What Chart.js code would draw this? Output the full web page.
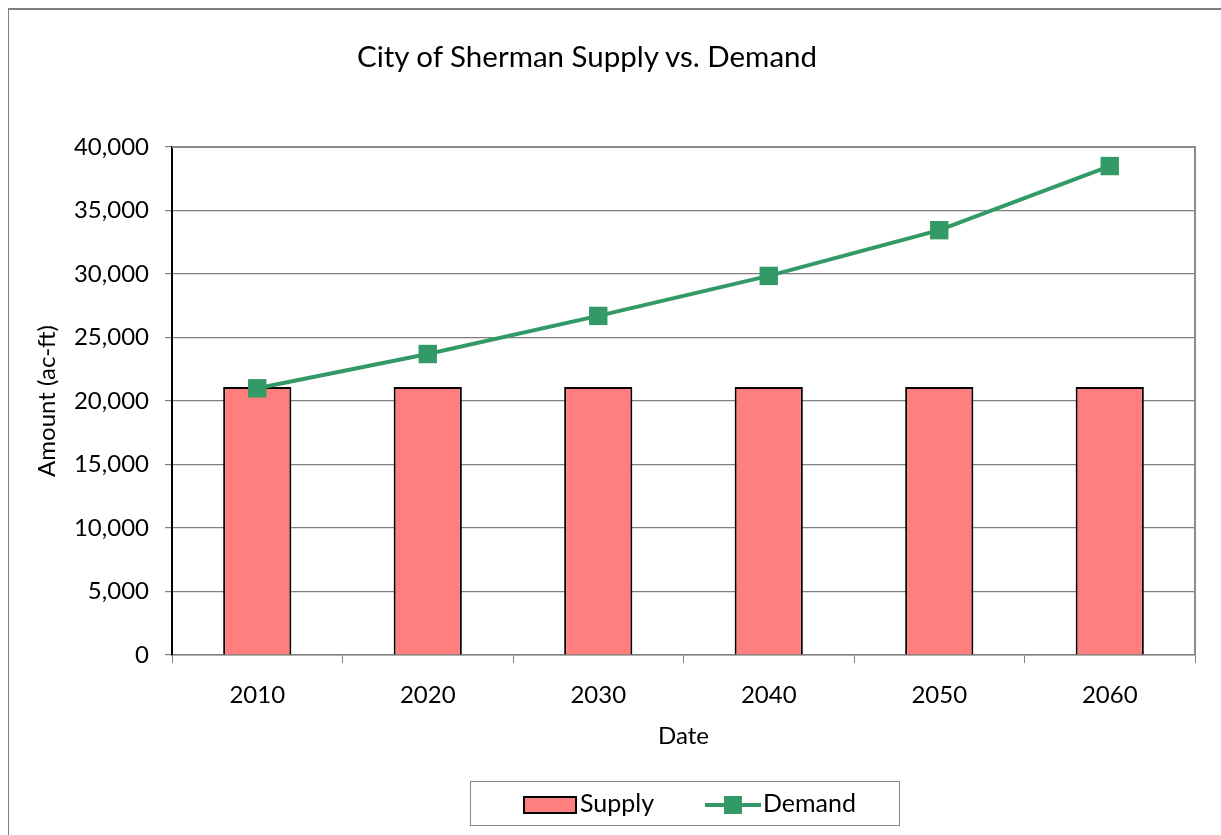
<!DOCTYPE html>
<html>
<head>
<meta charset="utf-8">
<script src="https://cdn.jsdelivr.net/npm/chart.js@4"></script>
<style>
  body { margin: 0; background: #fff; overflow: hidden; font-family: Lato, "Open Sans", sans-serif; }
  #frame { position: absolute; left: 8px; top: 8px; width: 1240px; height: 860px; border: 1px solid #7f7f7f; border-top-width: 2px; }
  #chart { position: absolute; left: 0; top: 0; }
  #title { position: absolute; left: 287px; width: 600px; top: 38px; text-align: center; font-size: 29.5px; color: #000; }
  #legend { position: absolute; left: 470px; top: 781px; width: 430px; height: 45px; border: 1px solid #8a8a8a; box-sizing: border-box; font-size: 25px; }
  .sw { position: absolute; }
  .lbl { position: absolute; top: 5px; }
</style>
</head>
<body>
<div id="frame"></div>
<canvas id="chart" width="1221" height="835"></canvas>
<div id="title">City of Sherman Supply vs. Demand</div>
<div id="legend">
  <div class="sw" style="left:52px;top:14px;width:50px;height:14px;background:#ff7f7f;border:2px solid #000;"></div>
  <div class="lbl" style="left:109px;">Supply</div>
  <div class="sw" style="left:234px;top:21px;width:56px;height:4px;background:#339966;"></div>
  <div class="sw" style="left:253px;top:14px;width:18px;height:18px;background:#339966;"></div>
  <div class="lbl" style="left:292px;">Demand</div>
</div>
<script>
const years = ["2010", "2020", "2030", "2040", "2050", "2060"];
const supply = [21100, 21100, 21100, 21100, 21100, 21100];
const demand = [21000, 23700, 26700, 29850, 33450, 38500];
const yTicks = [0, 5000, 10000, 15000, 20000, 25000, 30000, 35000, 40000];

const plotFrame = {
  id: "plotFrame",
  afterDatasetsDraw(chart) {
    const { ctx, chartArea: a } = chart;
    ctx.save();
    ctx.strokeStyle = "#8c8c8c";
    ctx.lineWidth = 2;
    ctx.beginPath();
    ctx.moveTo(a.left, a.top);
    ctx.lineTo(a.right, a.top);
    ctx.lineTo(a.right, a.bottom);
    ctx.stroke();
    ctx.restore();
  }
};

const ctx = document.getElementById("chart").getContext("2d");
new Chart(ctx, {
  type: "bar",
  data: {
    labels: years,
    datasets: [
      {
        type: "line",
        label: "Demand",
        data: demand,
        borderColor: "#339966",
        backgroundColor: "#339966",
        borderWidth: 4,
        pointStyle: "rect",
        pointRadius: 13,
        pointBorderWidth: 0,
        order: 0,
        tension: 0,
      },
      {
        label: "Supply",
        data: supply,
        backgroundColor: "#ff7f7f",
        borderColor: "#000000",
        borderWidth: 2,
        barPercentage: 0.4,
        categoryPercentage: 1,
        order: 1,
      },
    ],
  },
  options: {
    responsive: false,
    animation: false,
    devicePixelRatio: 1,
    layout: { padding: { top: 147, right: 26, bottom: 80, left: 0 } },
    plugins: {
      legend: { display: false },
      title: { display: false },
      tooltip: { enabled: false },
    },
    scales: {
      x: {
        offset: true,
        grid: { offset: true, drawOnChartArea: false, color: "#808080", tickLength: 8 },
        border: { color: "#808080", width: 1.5 },
        ticks: { color: "#000", font: { family: "Lato", size: 24 }, padding: 18 },
        title: { display: true, text: "Date", color: "#000", font: { family: "Lato", size: 24 }, padding: { top: 0, bottom: 4 } },
        afterFit(scale) { scale.height = 100; },
      },
      y: {
        min: 0,
        max: 40000,
        afterBuildTicks(scale) { scale.ticks = yTicks.map(v => ({ value: v })); },
        grid: { color: "#808080", tickLength: 7, lineWidth: 1.2 },
        border: { color: "#000", width: 2 },
        ticks: {
          color: "#000",
          font: { family: "Lato", size: 24 },
          padding: 16,
          callback: v => v.toLocaleString("en-US"),
        },
        title: { display: true, text: "Amount (ac-ft)", color: "#000", font: { family: "Lato", size: 24 }, padding: { top: 33, bottom: 0 } },
        afterFit(scale) { scale.width = 172; },
      },
    },
  },
  plugins: [plotFrame],
});
</script>
</body>
</html>
